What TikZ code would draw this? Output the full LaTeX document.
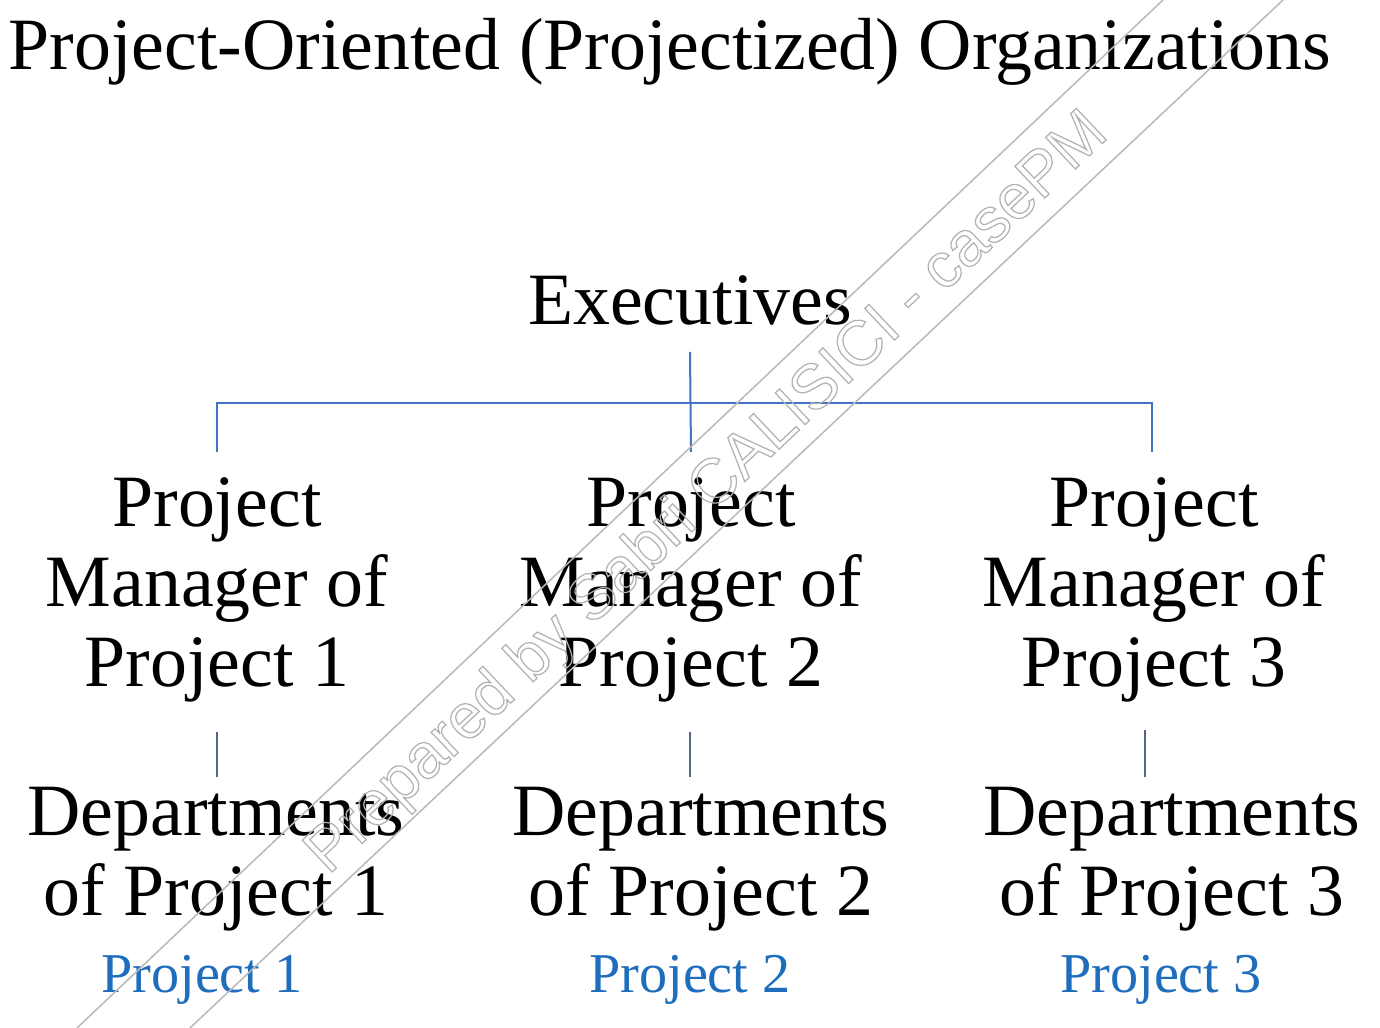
\documentclass[tikz,border=0pt]{standalone}
\usepackage{fontspec}
\setmainfont{Liberation Serif}
\newfontfamily\wmfont{Liberation Sans}
\usetikzlibrary{calc}
\definecolor{treeblue}{RGB}{68,114,196}
\definecolor{stemgray}{RGB}{85,100,135}
\definecolor{labelblue}{RGB}{31,110,190}
% outlined (stroked) glyphs for the watermark
\newcommand\outlinedtext[1]{\special{pdf:literal direct 1 Tr 0.35 w}#1\special{pdf:literal direct 0 Tr}}
\begin{document}
\begin{tikzpicture}[x=0.1mm,y=-0.1mm,
  heading/.style={font=\fontsize{21}{24}\selectfont, inner sep=0pt},
  role/.style={font=\fontsize{21}{22.8}\selectfont, align=center, inner sep=0pt, anchor=north},
  projlabel/.style={font=\fontsize{16}{18}\selectfont, text=labelblue, inner sep=0pt, anchor=base},
  tree/.style={draw=treeblue, line width=0.2mm},
  stem/.style={draw=stemgray, line width=0.15mm},
  wmline/.style={draw=gray!55, line width=0.15mm}]
\useasboundingbox[fill=white] (0,0) rectangle (1380,1028);

% heading
\node[heading, anchor=base] (title) at (670,70) {Project-Oriented (Projectized) Organizations};

% top of the hierarchy
\node[heading, anchor=base] (exec) at (690,325) {Executives};

% project managers
\node[role] (pm1) at (217,477) {Project\\Manager of\\Project 1};
\node[role] (pm2) at (691,477) {Project\\Manager of\\Project 2};
\node[role] (pm3) at (1154,477) {Project\\Manager of\\Project 3};

% departments
\node[role] (dep1) at (216,786) {Departments\\of Project 1};
\node[role] (dep2) at (701,786) {Departments\\of Project 2};
\node[role] (dep3) at (1172,786) {Departments\\of Project 3};

% project captions
\node[projlabel] (proj1) at (202,993) {Project 1};
\node[projlabel] (proj2) at (690,993) {Project 2};
\node[projlabel] (proj3) at (1161,993) {Project 3};

% reporting lines
\draw[tree] ($(exec.base)+(0,27)$) -- ($(pm2.north)+(0,-25)$);
\draw[tree] ($(pm1.north)+(0,-25)$) |- ($(exec.base)+(0,78)$) -| ($(pm3.north)+(-2,-25)$);

\draw[stem] ($(pm1.south)+(0,29)$) -- ($(pm1.south)+(0,74)$);
\draw[stem] ($(pm2.south)+(-1,29)$) -- ($(pm2.south)+(-1,74)$);
\draw[stem] ($(pm3.south)+(-9,27)$) -- ($(pm3.south)+(-9,74)$);

% diagonal watermark band
\coordinate (wa1) at (77,1028);
\coordinate (wa2) at (1163,0);
\coordinate (wb1) at (190,1028);
\coordinate (wb2) at (1283,0);
\draw[wmline] (wa1) -- (wa2);
\draw[wmline] (wb1) -- (wb2);
\node[font=\wmfont\fontsize{18}{20}\selectfont, text=gray!60, rotate=43.4, inner sep=0pt]
  (wm) at (708,494) {\outlinedtext{Prepared by Sabri CALISICI - casePM}};
\end{tikzpicture}
\end{document}
